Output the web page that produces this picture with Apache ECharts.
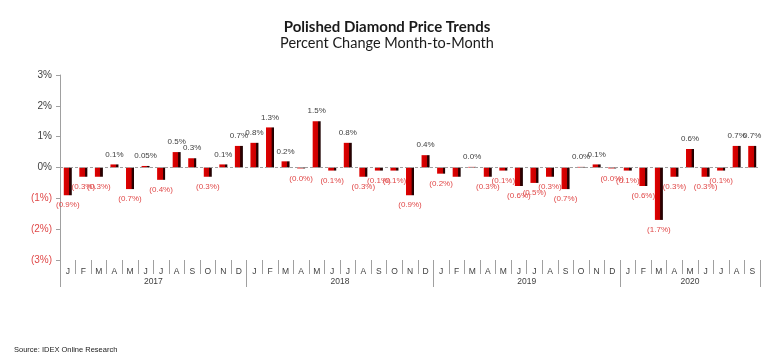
<!DOCTYPE html>
<html>
<head>
<meta charset="utf-8">
<script src="https://cdn.jsdelivr.net/npm/echarts@6/dist/echarts.min.js"></script>
<style>html,body{margin:0;padding:0;background:#fff}#c{width:774px;height:364px}</style>
</head>
<body>
<div id="c"></div>
<script>
const years = ['2017', '2018', '2019', '2020'];
const monthsPerYear = [12, 12, 12, 9];
const monthLetters = ['J','F','M','A','M','J','J','A','S','O','N','D'];
const values = [
  -0.9, -0.3, -0.3, 0.1, -0.7, 0.05, -0.4, 0.5, 0.3, -0.3, 0.1, 0.7,
  0.8, 1.3, 0.2, -0.03, 1.5, -0.1, 0.8, -0.3, -0.1, -0.1, -0.9, 0.4,
  -0.2, -0.3, 0.02, -0.3, -0.1, -0.6, -0.5, -0.3, -0.7, 0.02, 0.1, -0.03,
  -0.1, -0.6, -1.7, -0.3, 0.6, -0.3, -0.1, 0.7, 0.7
];
const valueLabels = [
  '(0.9%)','(0.3%)','(0.3%)','0.1%','(0.7%)','0.05%','(0.4%)','0.5%','0.3%','(0.3%)','0.1%','0.7%',
  '0.8%','1.3%','0.2%','(0.0%)','1.5%','(0.1%)','0.8%','(0.3%)','(0.1%)','(0.1%)','(0.9%)','0.4%',
  '(0.2%)','','0.0%','(0.3%)','(0.1%)','(0.6%)','(0.5%)','(0.3%)','(0.7%)','0.0%','0.1%','(0.0%)',
  '(0.1%)','(0.6%)','(1.7%)','(0.3%)','0.6%','(0.3%)','(0.1%)','0.7%','0.7%'
];
const yTicks = [-3, -2, -1, 0, 1, 2, 3];

const categories = [];
const yearStart = [];
years.forEach((y, yi) => {
  yearStart.push(categories.length);
  for (let m = 0; m < monthsPerYear[yi]; m++) categories.push(y + '-' + (m + 1));
});
const yearLabelIdx = {};
years.forEach((y, yi) => {
  const n = monthsPerYear[yi];
  const center = yearStart[yi] + (n - 1) / 2;
  yearLabelIdx[Math.floor(center)] = { year: y, half: center % 1 !== 0 };
});

const posColor = '#404040';
const negColor = '#e04848';
const barFill = new echarts.graphic.LinearGradient(0, 0, 1, 0, [
  { offset: 0, color: '#e00000' },
  { offset: 0.68, color: '#c80000' },
  { offset: 0.7, color: '#3a0000' },
  { offset: 1, color: '#1a0000' }
]);

const chart = echarts.init(document.getElementById('c'), null, { renderer: 'canvas' });
chart.setOption({
  animation: false,
  backgroundColor: '#ffffff',
  title: [
    { text: 'Polished Diamond Price Trends', left: 'center', top: 15,
      textStyle: { fontFamily: 'Lato', fontWeight: 'bold', fontSize: 15, color: '#1a1a1a' } },
    { text: 'Percent Change Month-to-Month', left: 'center', top: 31,
      textStyle: { fontFamily: 'Lato', fontWeight: 'normal', fontSize: 14.5, color: '#1a1a1a' } },
    { text: 'Source: IDEX Online Research', left: 9, top: 341,
      textStyle: { fontFamily: 'Liberation Sans', fontWeight: 'normal', fontSize: 7.5, color: '#222' } }
  ],
  grid: { left: 60, right: 14, top: 75, bottom: 104, containLabel: false },
  xAxis: [
    {
      type: 'category', data: categories, position: 'bottom',
      axisLine: { show: false, onZero: false },
      axisTick: { show: true, length: 14, lineStyle: { color: '#a0a0a0' } },
      axisLabel: { interval: 0, margin: 7, fontSize: 8.5, color: '#404040', fontFamily: 'Liberation Sans',
        formatter: (v, i) => monthLetters[i - yearStart[years.indexOf(v.split('-')[0])]] },
      splitLine: { show: false }
    },
    {
      type: 'category', data: categories, position: 'bottom',
      axisLine: { show: false, onZero: false },
      axisTick: { show: true, length: 27, interval: (i) => yearStart.includes(i), lineStyle: { color: '#a0a0a0' } },
      axisLabel: {
        interval: (i) => yearLabelIdx[i] !== undefined,
        margin: 17, fontSize: 8.5, color: '#404040', fontFamily: 'Liberation Sans',
        formatter: (v, i) => {
          const info = yearLabelIdx[i];
          if (!info) return '';
          return info.half ? '{s|' + info.year + '}' : '{c|' + info.year + '}';
        },
        rich: {
          s: { padding: [0, 0, 0, 15.6], fontSize: 8.5, color: '#404040', fontFamily: 'Liberation Sans' },
          c: { fontSize: 8.5, color: '#404040', fontFamily: 'Liberation Sans' }
        }
      },
      splitLine: { show: false }
    }
  ],
  yAxis: {
    type: 'value', min: yTicks[0], max: yTicks[yTicks.length - 1], interval: 1,
    axisLine: { show: true, lineStyle: { color: '#a0a0a0' } },
    axisTick: { show: true, length: 4, lineStyle: { color: '#a0a0a0' } },
    splitLine: { show: false },
    axisLabel: {
      margin: 8, fontFamily: 'Liberation Sans', fontSize: 10,
      formatter: (v) => v >= 0 ? '{p|' + v + '%}' : '{n|(' + (-v) + '%)}',
      rich: { p: { color: posColor, fontSize: 10, fontFamily: 'Liberation Sans' },
              n: { color: negColor, fontSize: 10, fontFamily: 'Liberation Sans' } }
    }
  },
  series: [{
    type: 'bar',
    xAxisIndex: 0,
    barWidth: 8,
    data: values.map((v, i) => ({
      value: v,
      label: {
        show: true,
        position: v >= 0 ? 'top' : 'bottom',
        distance: 6,
        color: v >= 0 ? posColor : negColor,
        fontSize: 8,
        fontFamily: 'Liberation Sans',
        formatter: () => valueLabels[i]
      }
    })),
    itemStyle: { color: barFill },
    markLine: {
      silent: true, symbol: 'none', label: { show: false },
      lineStyle: { color: '#a0a0a0', type: [3, 2], width: 1 },
      data: [{ yAxis: 0 }]
    }
  }]
});
</script>
</body>
</html>
